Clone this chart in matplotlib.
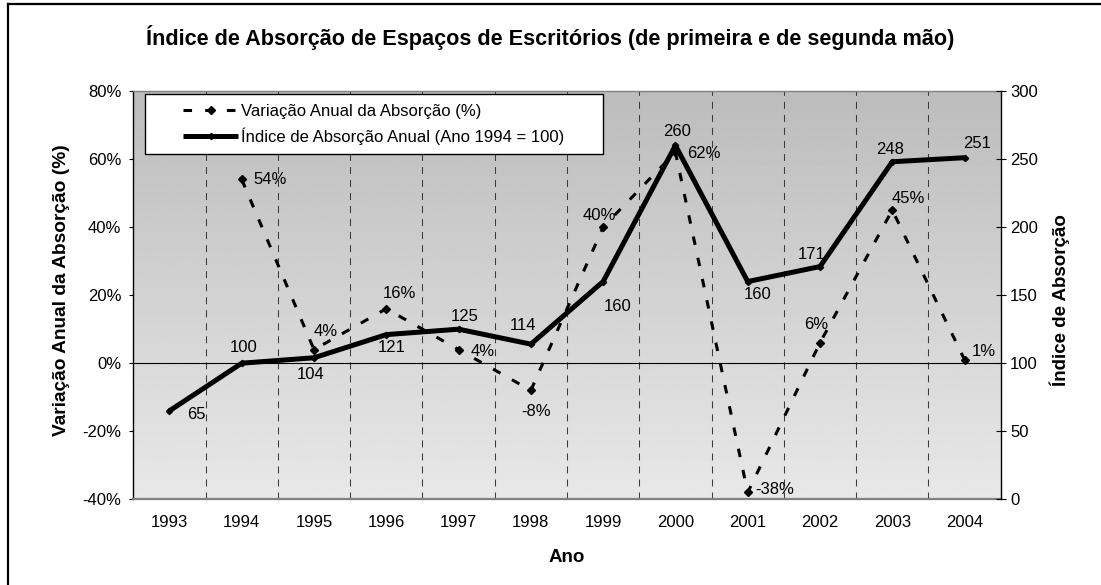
import numpy as np
import matplotlib
matplotlib.use("Agg")
import matplotlib.pyplot as plt
from matplotlib.lines import Line2D
from matplotlib.patches import Rectangle

plt.rcParams['font.family'] = ['Liberation Sans', 'DejaVu Sans']

# ---------------- data ----------------
years = ["1993", "1994", "1995", "1996", "1997", "1998",
         "1999", "2000", "2001", "2002", "2003", "2004"]
variacao = [np.nan, 54, 4, 16, 4, -8, 40, 62, -38, 6, 45, 1]      # %
indice = [65, 100, 104, 121, 125, 114, 160, 260, 160, 171, 248, 251]
left_ticks = [-40, -20, 0, 20, 40, 60, 80]
right_ticks = [0, 50, 100, 150, 200, 250, 300]

title = "Índice de Absorção de Espaços de Escritórios (de primeira e de segunda mão)"
name_var = "Variação Anual da Absorção (%)"
name_idx = "Índice de Absorção Anual (Ano 1994 = 100)"

# label offsets in pixels (dx right, dy down) -- style only
idx_off = [(27, 4), (2, -16), (-3, 17), (5, 13), (6, -13), (-8, -19),
           (14, 25), (2, -14), (10, 13), (-8, -12), (-2, -12), (13, -14)]
var_off = [None, (28, 0), (12, -18), (13, -15), (24, 2), (5, 21),
           (-4, -12), (28, 1), (27, -3), (-4, -18), (16, -12), (19, -8)]

W, H = 1101, 585
fig = plt.figure(figsize=(W / 100, H / 100), dpi=100)
fig.patch.set_facecolor('white')

L, R, T, B = 133.3, 1000.7, 91.0, 499.3
ax = fig.add_axes([L / W, 1 - B / H, (R - L) / W, (B - T) / H])
ax2 = ax.twinx()

x = np.arange(len(years))
ax.set_xlim(-0.5, len(years) - 0.5)
ax.set_ylim(-40, 80)
ax2.set_ylim(0, 300)

# gradient background
grad = np.linspace(188, 232, 256).reshape(-1, 1) / 255.0
ax.imshow(grad, cmap='gray', vmin=0, vmax=1, aspect='auto',
          extent=[0, 1, 0, 1], transform=ax.transAxes, zorder=0,
          interpolation='bilinear')

# vertical dashed gridlines at category boundaries
for k in range(1, len(years)):
    ax.axvline(k - 0.5, color='#3a3a3a', lw=0.75, ls=(0, (6.7, 5.8)), zorder=1)
ax.axhline(0, color='black', lw=0.8, zorder=1.5)

# series
var_style = dict(color='black', lw=2.2, ls=(0, (2.8, 4.3)), marker='D',
                 markersize=4.5, dash_capstyle='butt')
idx_style = dict(color='black', lw=3.6, ls='-', marker='D', markersize=3.2,
                 solid_capstyle='butt')
ax.plot(x, variacao, zorder=3, **var_style)
ax2.plot(x, indice, zorder=3, **idx_style)

fs = 12
for xi, v, off in zip(x, variacao, var_off):
    if off is None or np.isnan(v):
        continue
    ax.annotate(f"{v:.0f}%", (xi, v), xytext=(off[0], -off[1]),
                textcoords='offset pixels', ha='center', va='center',
                fontsize=fs, zorder=4)
for xi, v, off in zip(x, indice, idx_off):
    ax2.annotate(f"{v}", (xi, v), xytext=(off[0], -off[1]),
                 textcoords='offset pixels', ha='center', va='center',
                 fontsize=fs, zorder=4)

# axes styling
ax.set_xticks(x)
ax.set_xticklabels(years, fontsize=fs)
ax.tick_params(axis='x', length=0, pad=11.5)
ax.set_yticks(left_ticks)
ax.set_yticklabels([f"{t}%" for t in left_ticks], fontsize=fs)
ax.tick_params(axis='y', direction='out', length=3, width=0.8, pad=5.5)
ax2.set_yticks(right_ticks)
ax2.set_yticklabels([str(t) for t in right_ticks], fontsize=fs)
ax2.tick_params(axis='y', direction='inout', length=6.5, width=0.8, pad=3.5)

for s in ['top', 'bottom']:
    ax.spines[s].set_color('#808080')
    ax2.spines[s].set_visible(False)
ax.spines['bottom'].set_linewidth(1.6)
ax.spines['top'].set_linewidth(1.0)
ax.spines['left'].set_color('black')
ax.spines['left'].set_linewidth(1.0)
ax.spines['right'].set_visible(False)
ax2.spines['left'].set_visible(False)
ax2.spines['right'].set_color('black')
ax2.spines['right'].set_linewidth(1.0)

# texts
fig.text(550.5 / W, 1 - 37 / H, title, ha='center', va='center',
         fontsize=15.6, fontweight='bold')
fig.text(567 / W, 1 - 558 / H, "Ano", ha='center', va='center',
         fontsize=13.5, fontweight='bold')
fig.text(61.7 / W, 1 - 290 / H, name_var, ha='center', va='center',
         rotation=90, fontsize=13.8, fontweight='bold')
fig.text(1059.3 / W, 1 - 300 / H, "Índice de Absorção", ha='center',
         va='center', rotation=90, fontsize=13.5, fontweight='bold')

# legend box + legend
fig.add_artist(Rectangle((145 / W, 1 - 154 / H), 457.6 / W, 59.7 / H,
                         transform=fig.transFigure, facecolor='white',
                         edgecolor='black', lw=1.0, zorder=4))
handles = [Line2D([], [], **var_style), Line2D([], [], **idx_style)]
leg = fig.legend(handles, [name_var, name_idx], loc='upper left',
                 bbox_to_anchor=(183.3 / W, 1 - 104 / H),
                 bbox_transform=fig.transFigure, frameon=False,
                 fontsize=fs, handlelength=3.3, handletextpad=0.15,
                 labelspacing=0.5, borderpad=0, borderaxespad=0,
                 numpoints=1)
leg.set_zorder(6)

# outer border
fig.add_artist(Line2D([8 / W, 8 / W], [0, 1 - 4.3 / H], transform=fig.transFigure,
                      color='black', lw=1.6))
fig.add_artist(Line2D([8 / W, 1], [1 - 4.3 / H, 1 - 4.3 / H],
                      transform=fig.transFigure, color='black', lw=1.6))

fig.savefig("out.png", dpi=100)
